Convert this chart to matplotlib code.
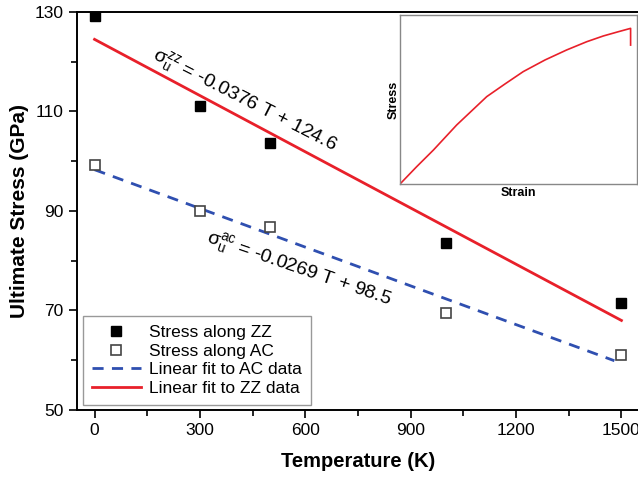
import matplotlib
matplotlib.use("Agg")
import matplotlib.pyplot as plt
from matplotlib.ticker import FixedLocator, MultipleLocator

plt.rcParams['font.family'] = ['Liberation Sans', 'DejaVu Sans']
plt.rcParams['mathtext.fontset'] = 'custom'
plt.rcParams['mathtext.rm'] = 'Liberation Sans'
plt.rcParams['mathtext.it'] = 'Liberation Sans:italic'

# data
temp = [0, 300, 500, 1000, 1500]
stress_zz = [129.1, 111.2, 103.6, 83.6, 71.6]
stress_ac = [99.2, 90.0, 86.7, 69.4, 61.1]

fit_ac_t = [0, 1480]
fit_ac_s = [98.3, 59.9]
fit_zz_t = [0, 1500]
fit_zz_s = [124.5, 68.0]

# inset stress-strain curve (normalised)
strain = [0.0, 0.070, 0.141, 0.239, 0.366, 0.443, 0.520, 0.612, 0.703,
          0.788, 0.858, 0.921, 0.973, 0.973]
stress_curve = [0.0, 0.102, 0.201, 0.349, 0.517, 0.592, 0.665, 0.734, 0.793,
                0.842, 0.876, 0.901, 0.921, 0.822]

fig = plt.figure(figsize=(6.38, 4.79), dpi=100)
ax = fig.add_axes([77 / 638, 69 / 479, 562 / 638, 398 / 479])

ax.plot(fit_ac_t, fit_ac_s, ls=(0, (4, 3)), color='#2f4fb0', lw=2, label='Linear fit to AC data')
ax.plot(fit_zz_t, fit_zz_s, '-', color='#e8202a', lw=2, label='Linear fit to ZZ data')
ax.plot(temp, stress_zz, 's', color='black', ms=7, label='Stress along ZZ')
ax.plot(temp, stress_ac, 's', mfc='white', mec='#444444', mew=1.2, ms=7, label='Stress along AC')

ax.set_xlim(-50, 1550)
ax.set_ylim(50, 130)
ax.xaxis.set_major_locator(MultipleLocator(300))
ax.xaxis.set_minor_locator(MultipleLocator(150))
ax.yaxis.set_major_locator(FixedLocator([50, 70, 90, 110, 130]))
ax.yaxis.set_minor_locator(FixedLocator([60, 80, 100, 120]))
ax.tick_params(which='both', direction='out', labelsize=12.5)
ax.tick_params(which='major', length=6, width=1.2)
ax.tick_params(which='minor', length=4, width=1.2)
for s in ax.spines.values():
    s.set_linewidth(1.4)

ax.set_xlabel('Temperature (K)', fontsize=14.5, fontweight='bold', labelpad=10)
ax.set_ylabel('Ultimate Stress (GPa)', fontsize=15, fontweight='bold', labelpad=4)

ax.text(427, 112.3, r'$\mathrm{σ_u^{zz}}$ = -0.0376 T + 124.6', fontsize=14,
        rotation=-27, ha='center', va='center', rotation_mode='anchor')
ax.text(583, 78.3, r'$\mathrm{σ_u^{ac}}$ = -0.0269 T + 98.5', fontsize=14,
        rotation=-19, ha='center', va='center', rotation_mode='anchor')

h, l = ax.get_legend_handles_labels()
order = [2, 3, 0, 1]
leg = ax.legend([h[i] for i in order], [l[i] for i in order], loc='lower left',
                bbox_to_anchor=(0.005, 0.005), borderaxespad=0.2, fontsize=12.5,
                fancybox=False, framealpha=1, edgecolor='#999999', handlelength=2.8,
                handletextpad=0.5, labelspacing=0.2, borderpad=0.5)
leg.get_frame().set_linewidth(1.0)

# inset
ins = fig.add_axes([400 / 638, (479 - 184) / 479, 237 / 638, 169 / 479])
ins.plot(strain, stress_curve, color='#e8202a', lw=1.2)
ins.set_xlim(0, 1)
ins.set_ylim(0, 1)
ins.set_xticks([])
ins.set_yticks([])
for s in ins.spines.values():
    s.set_color('#888888')
    s.set_linewidth(1.0)
ins.set_xlabel('Strain', fontsize=9, fontweight='bold', labelpad=2,
               family=['Liberation Sans Narrow', 'Liberation Sans'])
ins.set_ylabel('Stress', fontsize=9, fontweight='bold', labelpad=0,
               family=['Liberation Sans Narrow', 'Liberation Sans'])

fig.savefig('out.png', dpi=100)
